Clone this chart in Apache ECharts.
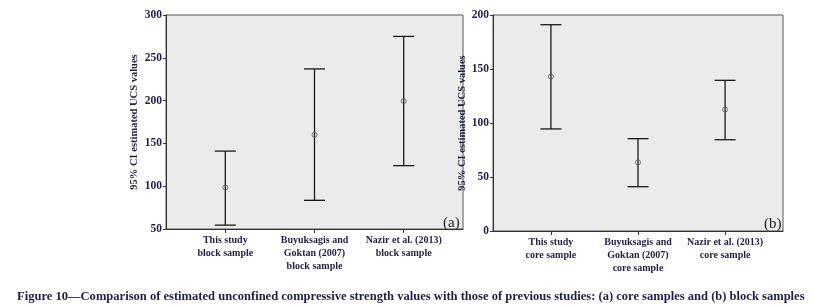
<!DOCTYPE html>
<html>
<head>
<meta charset="utf-8">
<script src="https://cdn.jsdelivr.net/npm/echarts@6/dist/echarts.min.js"></script>
<style>
  html, body { margin: 0; padding: 0; background: #fff; }
  #chart { width: 814px; height: 306px; }
</style>
</head>
<body>
<div id="chart"></div>
<script>
// (a) panel - block samples
const categoriesA = ['This study\nblock sample', 'Buyuksagis and\nGoktan (2007)\nblock sample', 'Nazir et al. (2013)\nblock sample']
const meanA = [98.5, 160, 199.5]
const lowA = [54.5, 83.5, 124]
const highA = [141, 237, 275]

// (b) panel - core samples
const categoriesB = ['This study\ncore sample', 'Buyuksagis and\nGoktan (2007)\ncore sample', 'Nazir et al. (2013)\ncore sample']
const meanB = [143, 63.5, 112.5]
const lowB = [94.5, 41, 84.5]
const highB = [191, 85.5, 139.5]

const positions = [1, 2, 3]

const serif = 'Liberation Serif'
const ink = '#1f1f48'

const chart = echarts.init(document.getElementById('chart'))

function renderErrorBar(params, api) {
  const x = api.value(0)
  const top = api.coord([x, api.value(2)])
  const bot = api.coord([x, api.value(1)])
  const half = 10.5
  const style = { stroke: '#1a1a1a', lineWidth: 1.3 }
  return {
    type: 'group',
    children: [
      { type: 'line', shape: { x1: top[0], y1: top[1], x2: bot[0], y2: bot[1] }, style },
      { type: 'line', shape: { x1: top[0] - half, y1: top[1], x2: top[0] + half, y2: top[1] }, style },
      { type: 'line', shape: { x1: bot[0] - half, y1: bot[1], x2: bot[0] + half, y2: bot[1] }, style }
    ]
  }
}

function xAxisFor(gridIndex, cats) {
  return {
    type: 'value',
    gridIndex,
    min: 0.335,
    max: 3.665,
    splitLine: { show: false },
    axisLine: { show: true, lineStyle: { color: '#333', width: 1 } },
    axisTick: { show: true, customValues: positions, length: 4, lineStyle: { color: '#333' } },
    axisLabel: {
      customValues: positions,
      formatter: (v) => cats[Math.round(v) - 1] || '',
      fontFamily: serif,
      fontWeight: 'bold',
      fontSize: 10,
      lineHeight: 13,
      color: ink,
      margin: 5
    }
  }
}

function yAxisFor(gridIndex, min, max, gap) {
  return {
    type: 'value',
    gridIndex,
    min,
    max,
    interval: 50,
    name: '95% CI estimated UCS values',
    nameLocation: 'middle',
    nameGap: gap,
    nameTextStyle: { fontFamily: serif, fontWeight: 'bold', fontSize: 10.5, color: ink },
    splitLine: { show: false },
    axisLine: { show: true, lineStyle: { color: '#333', width: 1 } },
    axisTick: { show: true, length: 3, lineStyle: { color: '#333' } },
    axisLabel: { fontFamily: serif, fontWeight: 'bold', fontSize: 11.5, color: ink, margin: 4 }
  }
}

function toTriples(low, high) {
  return positions.map((p, i) => [p, low[i], high[i]])
}

chart.setOption({
  animation: false,
  title: [
    {
      text: 'Figure 10—Comparison of estimated unconfined compressive strength values with those of previous studies: (a) core samples and (b) block samples',
      left: 12,
      top: 285,
      textStyle: { fontFamily: serif, fontWeight: 'bold', fontSize: 12.55, color: ink }
    },
    { text: '(a)', left: 438, top: 211, textStyle: { fontFamily: serif, fontWeight: 'normal', fontSize: 15, color: '#222' } },
    { text: '(b)', left: 759, top: 212, textStyle: { fontFamily: serif, fontWeight: 'normal', fontSize: 15, color: '#222' } }
  ],
  grid: [
    { left: 166, top: 15, width: 297, height: 214, show: true, backgroundColor: '#ebebeb', borderColor: '#555', borderWidth: 1 },
    { left: 493, top: 15, width: 290, height: 216, show: true, backgroundColor: '#ebebeb', borderColor: '#555', borderWidth: 1 }
  ],
  xAxis: [xAxisFor(0, categoriesA), xAxisFor(1, categoriesB)],
  yAxis: [yAxisFor(0, 50, 300, 26), yAxisFor(1, 0, 200, 19)],
  series: [
    {
      type: 'custom',
      xAxisIndex: 0,
      yAxisIndex: 0,
      renderItem: renderErrorBar,
      encode: { x: 0, y: [1, 2] },
      data: toTriples(lowA, highA)
    },
    {
      type: 'scatter',
      xAxisIndex: 0,
      yAxisIndex: 0,
      symbol: 'circle',
      symbolSize: 5,
      itemStyle: { color: 'transparent', borderColor: '#555', borderWidth: 1 },
      data: positions.map((p, i) => [p, meanA[i]])
    },
    {
      type: 'custom',
      xAxisIndex: 1,
      yAxisIndex: 1,
      renderItem: renderErrorBar,
      encode: { x: 0, y: [1, 2] },
      data: toTriples(lowB, highB)
    },
    {
      type: 'scatter',
      xAxisIndex: 1,
      yAxisIndex: 1,
      symbol: 'circle',
      symbolSize: 5,
      itemStyle: { color: 'transparent', borderColor: '#555', borderWidth: 1 },
      data: positions.map((p, i) => [p, meanB[i]])
    }
  ]
})
</script>
</body>
</html>
